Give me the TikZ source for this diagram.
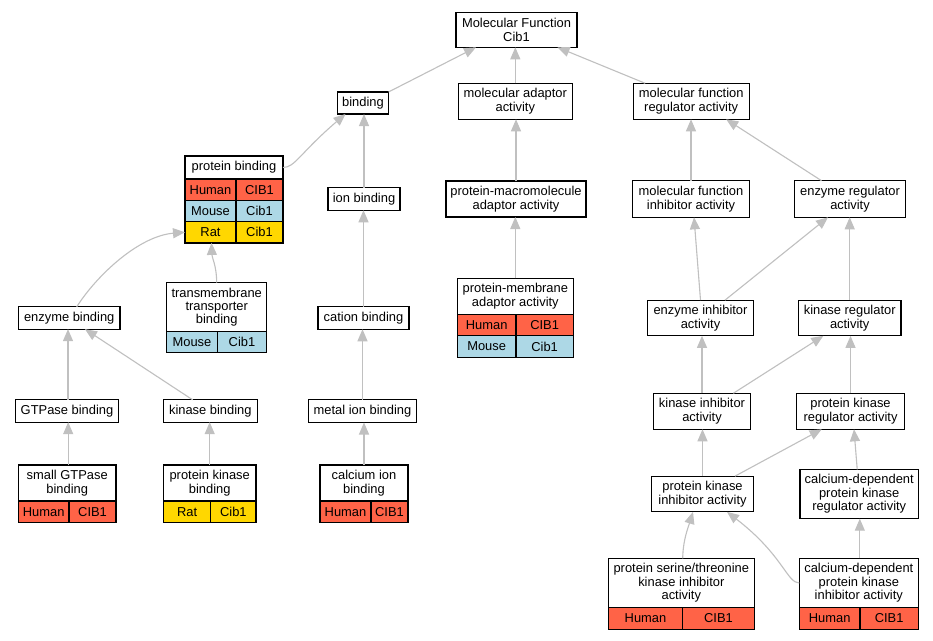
\documentclass[tikz,border=0pt]{standalone}
\usepackage{fontspec}
\setmainfont{Liberation Sans}
\usetikzlibrary{arrows.meta,calc}
\definecolor{human}{HTML}{FF6347}
\definecolor{mouse}{HTML}{ADD8E6}
\definecolor{rat}{HTML}{FFD700}
\definecolor{edgegray}{HTML}{C0C0C0}
\newcommand{\gofont}{\fontsize{12.9}{13.4}\selectfont}
\tikzset{
  box/.style={draw=black, line width=1.2pt, fill=white, inner sep=0pt, outer sep=0pt, align=center, font=\gofont},
  cell/.style={draw=black, line width=1.2pt, inner sep=0pt, outer sep=0pt, anchor=north west, font=\gofont},
  edge/.style={draw=edgegray, line width=1.1pt, -{Triangle[length=12pt,width=10pt]}},
}
\begin{document}
\begin{tikzpicture}[x=1pt,y=-1pt]
\useasboundingbox[fill=white] (0,0) rectangle (933,640);

% ---------- plain boxes ----------
\node[box, minimum width=121pt, minimum height=35pt] (mf) at (516.5,29.8) {Molecular Function\\Cib1};
\node[box, minimum width=51pt, minimum height=22pt] (binding) at (363,103) {binding};
\node[box, minimum width=114pt, minimum height=36pt] (madapt) at (515.3,101.3) {molecular adaptor\\activity};
\node[box, minimum width=116pt, minimum height=36pt] (mfreg) at (691.2,101.3) {molecular function\\regulator activity};
\node[box, minimum width=72pt, minimum height=22.5pt] (ionb) at (364,199) {ion binding};
\node[box, minimum width=140pt, minimum height=36pt] (pmacro) at (516,199) {protein-macromolecule\\adaptor activity};
\node[box, minimum width=116.6pt, minimum height=36.6pt] (mfinh) at (691,199) {molecular function\\inhibitor activity};
\node[box, minimum width=111.4pt, minimum height=36.6pt] (enzreg) at (850,199) {enzyme regulator\\activity};
\node[box, minimum width=101.7pt, minimum height=22.3pt] (enzb) at (69.2,318) {enzyme binding};
\node[box, minimum width=91pt, minimum height=22.6pt] (cationb) at (363.5,318) {cation binding};
\node[box, minimum width=105.6pt, minimum height=35.7pt] (enzinh) at (700.5,318) {enzyme inhibitor\\activity};
\node[box, minimum width=102.7pt, minimum height=35.7pt] (kinreg) at (849.7,318) {kinase regulator\\activity};
\node[box, minimum width=102.6pt, minimum height=22.3pt] (gtpb) at (67,411) {GTPase binding};
\node[box, minimum width=94pt, minimum height=22.3pt] (kinb) at (210.3,411) {kinase binding};
\node[box, minimum width=108.4pt, minimum height=23pt] (metalb) at (362.5,411) {metal ion binding};
\node[box, minimum width=97.4pt, minimum height=36pt] (kininh) at (702,411.3) {kinase inhibitor\\activity};
\node[box, minimum width=107.6pt, minimum height=36pt] (pkreg) at (850.5,411.3) {protein kinase\\regulator activity};
\node[box, minimum width=101.6pt, minimum height=35.7pt] (pkinh) at (702.5,494) {protein kinase\\inhibitor activity};
\node[box, minimum width=118.3pt, minimum height=49.4pt] (cdpkreg) at (859.2,494) {calcium-dependent\\protein kinase\\regulator activity};

% ---------- table boxes ----------
% protein binding
\node[box, minimum width=98pt, minimum height=23pt] (pbind) at (234,167.5) {protein binding};
\node[cell, fill=human, minimum width=51pt, minimum height=21.3pt] (pbind-h1) at (pbind.south west) {Human};
\node[cell, fill=human, minimum width=47pt, minimum height=21.3pt] (pbind-h2) at (pbind-h1.north east) {CIB1};
\node[cell, fill=mouse, minimum width=51pt, minimum height=21.3pt] (pbind-m1) at (pbind-h1.south west) {Mouse};
\node[cell, fill=mouse, minimum width=47pt, minimum height=21.3pt] (pbind-m2) at (pbind-m1.north east) {Cib1};
\node[cell, fill=rat, minimum width=51pt, minimum height=21.3pt] (pbind-r1) at (pbind-m1.south west) {Rat};
\node[cell, fill=rat, minimum width=47pt, minimum height=21.3pt] (pbind-r2) at (pbind-r1.north east) {Cib1};

% transmembrane transporter binding
\node[box, minimum width=100pt, minimum height=49pt] (tmtb) at (216.7,307.2) {transmembrane\\transporter\\binding};
\node[cell, fill=mouse, minimum width=50.6pt, minimum height=21pt] (tmtb-m1) at (tmtb.south west) {Mouse};
\node[cell, fill=mouse, minimum width=49.4pt, minimum height=21pt] (tmtb-m2) at (tmtb-m1.north east) {Cib1};

% protein-membrane adaptor activity
\node[box, minimum width=116pt, minimum height=36pt] (pmemb) at (515.3,296.3) {protein-membrane\\adaptor activity};
\node[cell, fill=human, minimum width=58.7pt, minimum height=21.5pt] (pmemb-h1) at (pmemb.south west) {Human};
\node[cell, fill=human, minimum width=57.3pt, minimum height=21.5pt] (pmemb-h2) at (pmemb-h1.north east) {CIB1};
\node[cell, fill=mouse, minimum width=58.7pt, minimum height=21.5pt] (pmemb-m1) at (pmemb-h1.south west) {Mouse};
\node[cell, fill=mouse, minimum width=57.3pt, minimum height=21.5pt] (pmemb-m2) at (pmemb-m1.north east) {Cib1};

% small GTPase binding
\node[box, minimum width=97.7pt, minimum height=36pt] (sgtp) at (67.2,483) {small GTPase\\binding};
\node[cell, fill=human, minimum width=50.7pt, minimum height=21.3pt] (sgtp-h1) at (sgtp.south west) {Human};
\node[cell, fill=human, minimum width=47pt, minimum height=21.3pt] (sgtp-h2) at (sgtp-h1.north east) {CIB1};

% protein kinase binding
\node[box, minimum width=92.7pt, minimum height=36pt] (pkb) at (209.7,483) {protein kinase\\binding};
\node[cell, fill=rat, minimum width=47.4pt, minimum height=21.3pt] (pkb-r1) at (pkb.south west) {Rat};
\node[cell, fill=rat, minimum width=45.3pt, minimum height=21.3pt] (pkb-r2) at (pkb-r1.north east) {Cib1};

% calcium ion binding
\node[box, minimum width=88pt, minimum height=36pt] (cab) at (364,483) {calcium ion\\binding};
\node[cell, fill=human, minimum width=51pt, minimum height=21.3pt] (cab-h1) at (cab.south west) {Human};
\node[cell, fill=human, minimum width=37pt, minimum height=21.3pt] (cab-h2) at (cab-h1.north east) {CIB1};

% protein serine/threonine kinase inhibitor activity
\node[box, minimum width=146pt, minimum height=49.4pt] (pstk) at (681.3,583) {protein serine/threonine\\kinase inhibitor\\activity};
\node[cell, fill=human, minimum width=74.4pt, minimum height=21.6pt] (pstk-h1) at (pstk.south west) {Human};
\node[cell, fill=human, minimum width=71.6pt, minimum height=21.6pt] (pstk-h2) at (pstk-h1.north east) {CIB1};

% calcium-dependent protein kinase inhibitor activity
\node[box, minimum width=119pt, minimum height=49.4pt] (cdpki) at (858.8,583) {calcium-dependent\\protein kinase\\inhibitor activity};
\node[cell, fill=human, minimum width=60.7pt, minimum height=21.6pt] (cdpki-h1) at (cdpki.south west) {Human};
\node[cell, fill=human, minimum width=58.3pt, minimum height=21.6pt] (cdpki-h2) at (cdpki-h1.north east) {CIB1};

% ---------- connectors ----------
\begin{scope}[on background layer/.style={}]
\draw[edge] (binding.north east) -- ([xshift=20pt]mf.south west);
\draw[edge] (madapt.north) -- (madapt.north |- mf.south);
\draw[edge] ([xshift=12pt]mfreg.north west) -- ([xshift=-19.5pt]mf.south east);
\draw[edge] (pbind.east) .. controls (295,167.5) and (300,153) .. ([xshift=8pt]binding.south west);
\draw[edge] (ionb.north) -- (ionb.north |- binding.south);
\draw[edge] (pmacro.north) -- (pmacro.north |- madapt.south);
\draw[edge] (mfinh.north) -- (mfinh.north |- mfreg.south);
\draw[edge] ([xshift=-28.5pt]enzreg.north) -- ([xshift=-23pt]mfreg.south east);
\draw[edge] ([xshift=7.5pt]enzb.north) .. controls (97,275) and (139,236) .. (pbind-r1.west);
\draw[edge] (tmtb.north) .. controls (216.5,265) and (212,258) .. ([xshift=1pt]pbind-r1.south);
\draw[edge] (cationb.north) -- (cationb.north |- ionb.south);
\draw[edge] (pmemb.north) -- (pmemb.north |- pmacro.south);
\draw[edge] (enzinh.north) -- ([xshift=3pt]mfinh.south);
\draw[edge] ([xshift=24.5pt]enzinh.north) -- ([xshift=-22pt]enzreg.south);
\draw[edge] (kinreg.north) -- (kinreg.north |- enzreg.south);
\draw[edge] ([xshift=1pt]gtpb.north) -- ([xshift=1pt]gtpb.north |- enzb.south);
\draw[edge] ([xshift=-17.6pt]kinb.north) -- ([xshift=15.8pt]enzb.south);
\draw[edge] (metalb.north) -- (metalb.north |- cationb.south);
\draw[edge] (kininh.north) -- (kininh.north |- enzinh.south);
\draw[edge] ([xshift=31.3pt]kininh.north) -- ([xshift=-26.4pt]kinreg.south);
\draw[edge] (pkreg.north) -- (pkreg.north |- kinreg.south);
\draw[edge] ([xshift=1pt]sgtp.north) -- ([xshift=1pt]sgtp.north |- gtpb.south);
\draw[edge] (pkb.north) -- (pkb.north |- kinb.south);
\draw[edge] (cab.north) -- (cab.north |- metalb.south);
\draw[edge] (pkinh.north) -- (pkinh.north |- kininh.south);
\draw[edge] ([xshift=32.5pt]pkinh.north) -- ([xshift=-28.8pt]pkreg.south);
\draw[edge] ([xshift=-2pt]cdpkreg.north) -- ([xshift=3.5pt]pkreg.south);
\draw[edge] ([xshift=1.4pt]pstk.north) .. controls (683,540) and (688,528) .. ([xshift=-9.5pt]pkinh.south);
\draw[edge] (cdpki.west) .. controls (787,583) and (783,555) .. ([xshift=24.5pt]pkinh.south);
\draw[edge] ([xshift=1pt]cdpki.north) -- ([xshift=1pt]cdpki.north |- cdpkreg.south);
\end{scope}
\end{tikzpicture}
\end{document}
